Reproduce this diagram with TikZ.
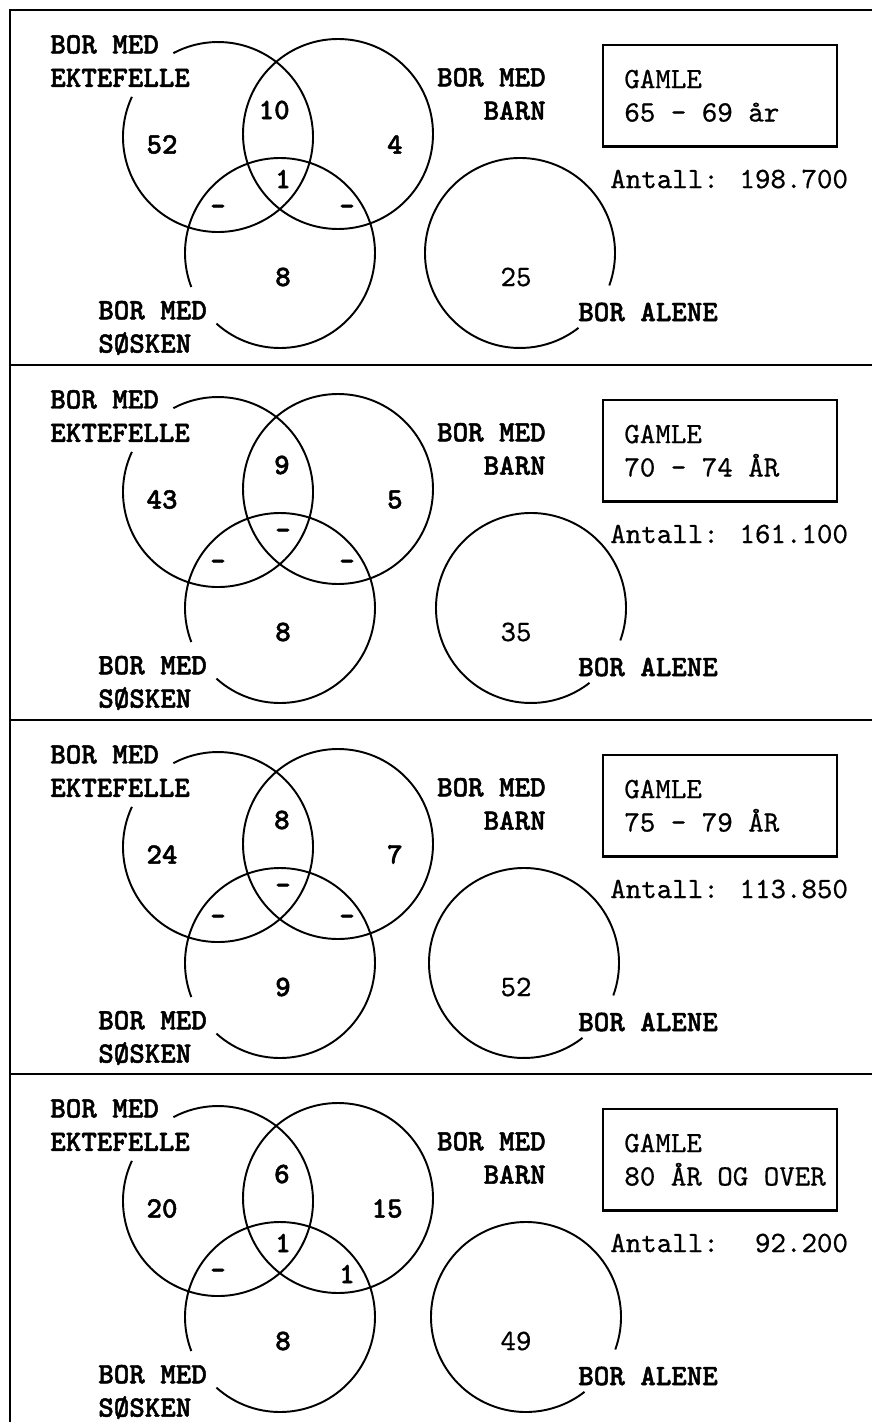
\documentclass[tikz,border=0pt]{standalone}
\usepackage{fontspec}
\usepackage{tikz}
\newfontfamily\lblfont[FakeBold=1.6]{lmmonolt10-bold.otf}
\newfontfamily\txtfont[FakeBold=0.6]{lmmono10-regular.otf}

\begin{document}
\begin{tikzpicture}[x=0.02cm,y=0.02cm,
    ring/.style={line width=1.1pt},
    lbl/.style={inner sep=0pt,font=\fontsize{16.8}{19}\selectfont\lblfont},
    txt/.style={inner sep=0pt,font=\fontsize{16.8}{19}\selectfont\txtfont}]
  \useasboundingbox (0,0) rectangle (872,-1422);
  % Ramme og skillelinjer mellom panelene
  \draw[line width=1.3pt] (10,-1422) -- (10,-10) -- (872,-10);
  \foreach \y in {365,720,1074}
    \draw[line width=1.3pt] (10,-\y) -- (872,-\y);
  % Ett panel per aldersgruppe
  \foreach \pT/\pA/\pAB/\pB/\pABC/\pAC/\pBC/\pC/\pD/\pDx/\pAge/\pAnt [count=\i] in {
      10/52/10/4/1/-/-/8/25/520/65 - 69 år/198.700,
      365/43/9/5/-/-/-/8/35/531/70 - 74 ÅR/161.100,
      720/24/8/7/-/-/-/9/52/524/75 - 79 ÅR/113.850,
      1074/20/6/15/1/-/1/8/49/526/80 ÅR OG OVER/\phantom{1}92.200}{
    % Sirkelsentre
    \coordinate (ekt\i) at (218,{-\pT-127});
    \coordinate (barn\i) at (338,{-\pT-124});
    \coordinate (sos\i) at (280,{-\pT-243});
    \coordinate (alene\i) at (\pDx,{-\pT-243});
    % Sirkler (med aapning ved etikettene)
    \draw[ring] (ekt\i) ++(155:95) arc[start angle=155,end angle=478,radius=95];
    \draw[ring] (barn\i) circle[radius=95];
    \draw[ring] (sos\i) ++(228:95) arc[start angle=228,end angle=561,radius=95];
    \draw[ring] (alene\i) ++(-20:95) arc[start angle=-20,end angle=308,radius=95];
    % Etiketter
    \node[lbl,align=left,anchor=west] (ektlbl\i) at (50,{-\pT-51}) {BOR MED\\EKTEFELLE};
    \node[lbl,align=right,anchor=east] (barnlbl\i) at (546,{-\pT-84}) {BOR MED\\BARN};
    \node[lbl,align=left,anchor=west] (soslbl\i) at (98,{-\pT-318}) {BOR MED\\SØSKEN};
    \node[lbl,anchor=west] (alenelbl\i) at (578,{-\pT-302}) {BOR ALENE};
    % Prosenttall i feltene
    \node[lbl] (nA\i) at (162,{-\pT-134.5}) {\pA};
    \node[lbl,anchor=east] (nAB\i) at (290,{-\pT-100}) {\pAB};
    \node[lbl,anchor=east] (nB\i) at (403,{-\pT-134.5}) {\pB};
    \node[lbl] (nABC\i) at (283,{-\pT-169}) {\pABC};
    \node[lbl] (nAC\i) at (218,{-\pT-200}) {\pAC};
    \node[lbl] (nBC\i) at (347,{-\pT-200}) {\pBC};
    \node[lbl] (nC\i) at (283,{-\pT-267}) {\pC};
    \node[txt] (nD\i) at (516,{-\pT-267}) {\pD};
    % Aldersboks og antall
    \node[draw,line width=1.2pt,inner sep=0pt,minimum width=4.68cm,minimum height=2.03cm,
      anchor=north west] (box\i) at (602,{-\pT-34}) {};
    \node[txt,align=left,anchor=west] (age\i) at ([xshift=0.44cm]box\i.west) {GAMLE\\\pAge};
    \node[txt,anchor=west] (antall\i) at (610,{-\pT-169}) {Antall: \pAnt};
  }
\end{tikzpicture}
\end{document}
